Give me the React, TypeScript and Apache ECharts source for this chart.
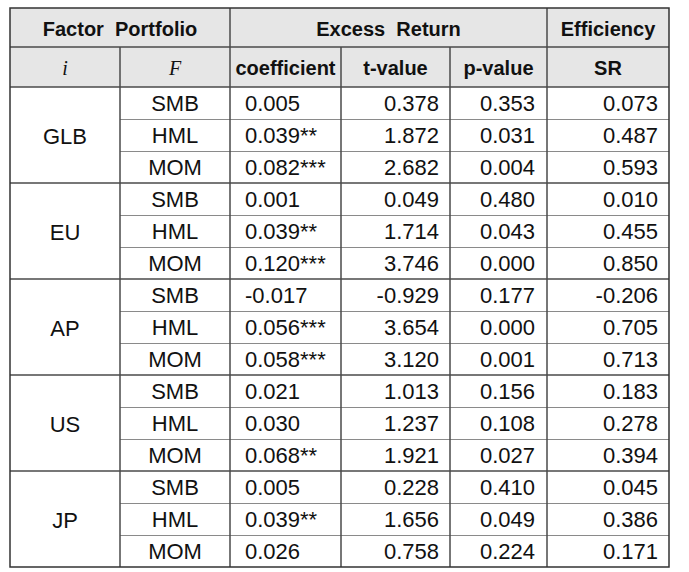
import React, { useEffect, useRef } from "react";
import * as echarts from "echarts";

const regions = ["GLB", "EU", "AP", "US", "JP"];
const factors = ["SMB", "HML", "MOM"];
const coefficients = ["0.005", "0.039**", "0.082***", "0.001", "0.039**", "0.120***", "-0.017", "0.056***", "0.058***", "0.021", "0.030", "0.068**", "0.005", "0.039**", "0.026"];
const tValues = ["0.378", "1.872", "2.682", "0.049", "1.714", "3.746", "-0.929", "3.654", "3.120", "1.013", "1.237", "1.921", "0.228", "1.656", "0.758"];
const pValues = ["0.353", "0.031", "0.004", "0.480", "0.043", "0.000", "0.177", "0.000", "0.001", "0.156", "0.108", "0.027", "0.410", "0.049", "0.224"];
const srValues = ["0.073", "0.487", "0.593", "0.010", "0.455", "0.850", "-0.206", "0.705", "0.713", "0.183", "0.278", "0.394", "0.045", "0.386", "0.171"];
const groupHeaders = ["Factor  Portfolio", "Excess  Return", "Efficiency"];
const columnHeaders = ["i", "F", "coefficient", "t-value", "p-value", "SR"];

const COLS = [10, 120, 230, 341, 450, 547, 669];
const TOP = 8;
const H1 = 47;
const H2 = 87;
const ROW = 32;
const SANS = "'Liberation Sans', Arial, Helvetica, sans-serif";
const SERIF = "'Liberation Serif', 'DejaVu Serif', serif";
const TXT = "#111";
const DARK = "#4a4a4a";
const LIGHT = "#8a8a8a";
const DATA_FONT = `22px ${SANS}`;

function buildGraphics() {
  const els: any[] = [];
  const nRows = regions.length * factors.length;
  const bottom = H2 + nRows * ROW;

  els.push({ type: "rect", shape: { x: COLS[0], y: TOP, width: COLS[6] - COLS[0], height: H2 - TOP }, style: { fill: "#e6e6e6" }, z: 0 });

  const spans = [[0, 2], [2, 5], [5, 6]];
  groupHeaders.forEach((t, i) => {
    const [a, b] = spans[i];
    els.push({
      type: "text", z: 5,
      x: (COLS[a] + COLS[b]) / 2, y: (TOP + H1) / 2 + 1,
      style: { text: t, fill: TXT, font: `bold 20px ${SANS}`, align: "center", verticalAlign: "middle" },
    });
  });
  columnHeaders.forEach((t, i) => {
    const italic = i < 2;
    els.push({
      type: "text", z: 5,
      x: (COLS[i] + COLS[i + 1]) / 2, y: (H1 + H2) / 2 + 1,
      style: {
        text: t, fill: TXT,
        font: italic ? `italic 20px ${SERIF}` : `bold 20px ${SANS}`,
        align: "center", verticalAlign: "middle",
      },
    });
  });

  regions.forEach((r, g) => {
    const gy = H2 + g * 3 * ROW;
    els.push({
      type: "text", z: 5,
      x: (COLS[0] + COLS[1]) / 2, y: gy + 1.5 * ROW + 1,
      style: { text: r, fill: TXT, font: DATA_FONT, align: "center", verticalAlign: "middle" },
    });
    factors.forEach((f, k) => {
      const idx = g * 3 + k;
      const cy = gy + k * ROW + ROW / 2 + 0.5;
      els.push({ type: "text", z: 5, x: (COLS[1] + COLS[2]) / 2, y: cy, style: { text: f, fill: TXT, font: DATA_FONT, align: "center", verticalAlign: "middle" } });
      els.push({ type: "text", z: 5, x: COLS[2] + 15, y: cy, style: { text: coefficients[idx], fill: TXT, font: DATA_FONT, align: "left", verticalAlign: "middle" } });
      els.push({ type: "text", z: 5, x: COLS[4] - 11, y: cy, style: { text: tValues[idx], fill: TXT, font: DATA_FONT, align: "right", verticalAlign: "middle" } });
      els.push({ type: "text", z: 5, x: COLS[5] - 12, y: cy, style: { text: pValues[idx], fill: TXT, font: DATA_FONT, align: "right", verticalAlign: "middle" } });
      els.push({ type: "text", z: 5, x: COLS[6] - 11, y: cy, style: { text: srValues[idx], fill: TXT, font: DATA_FONT, align: "right", verticalAlign: "middle" } });
      if (k > 0) {
        const ly = gy + k * ROW;
        els.push({ type: "line", z: 2, shape: { x1: COLS[1], y1: ly + 0.5, x2: COLS[6], y2: ly + 0.5 }, style: { stroke: LIGHT, lineWidth: 1 } });
      }
    });
    if (g > 0) {
      els.push({ type: "line", z: 3, shape: { x1: COLS[0], y1: gy, x2: COLS[6], y2: gy }, style: { stroke: DARK, lineWidth: 1.5 } });
    }
  });

  els.push({ type: "line", z: 3, shape: { x1: COLS[0], y1: H1, x2: COLS[6], y2: H1 }, style: { stroke: DARK, lineWidth: 1.5 } });
  els.push({ type: "line", z: 3, shape: { x1: COLS[0], y1: H2, x2: COLS[6], y2: H2 }, style: { stroke: DARK, lineWidth: 1.5 } });

  [1, 3, 4].forEach((c) => {
    els.push({ type: "line", z: 3, shape: { x1: COLS[c], y1: H1, x2: COLS[c], y2: bottom }, style: { stroke: DARK, lineWidth: 1.5 } });
  });
  [2, 5].forEach((c) => {
    els.push({ type: "line", z: 3, shape: { x1: COLS[c], y1: TOP, x2: COLS[c], y2: bottom }, style: { stroke: DARK, lineWidth: 1.5 } });
  });

  els.push({ type: "rect", z: 4, shape: { x: COLS[0], y: TOP, width: COLS[6] - COLS[0], height: bottom - TOP }, style: { fill: "none", stroke: "#333", lineWidth: 1.5 } });

  return els;
}

export default function App() {
  const ref = useRef<HTMLDivElement>(null);
  useEffect(() => {
    if (!ref.current) return;
    const chart = echarts.init(ref.current, undefined, { renderer: "svg" });
    chart.setOption({
      animation: false,
      backgroundColor: "#ffffff",
      graphic: { elements: buildGraphics() },
    });
    return () => chart.dispose();
  }, []);
  return (
    <div
      ref={ref}
      style={{ position: "fixed", left: 0, top: 0, width: 689, height: 572, background: "#fff" }}
    />
  );
}
